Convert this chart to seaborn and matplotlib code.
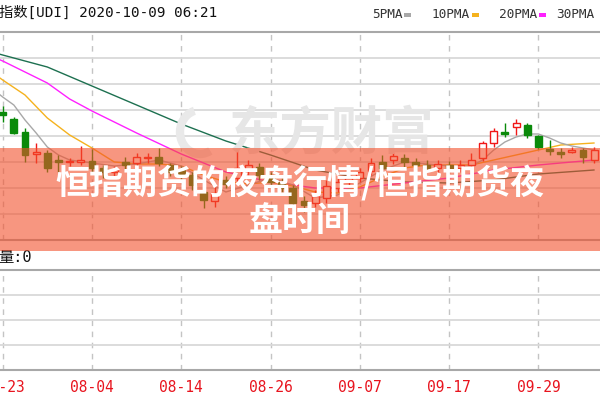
import numpy as np
import pandas as pd
import matplotlib
matplotlib.use('Agg')
import matplotlib.pyplot as plt
from matplotlib.patches import Rectangle, Arc
import seaborn as sns

# daily candles, 07-23 .. 10-08 (index 0 = 07-23)
opens = [94.64, 94.43, 94.04, 93.38, 93.41, 93.20, 93.14, 93.14, 93.17, 92.96,
         92.84, 93.14, 93.11, 93.26, 93.29, 93.05, 92.90, 92.75, 92.24, 91.97,
         92.60, 92.66, 92.90, 92.99, 92.72, 92.54, 92.36, 91.97, 91.91, 92.06,
         92.36, 92.54, 92.66, 92.87, 93.14, 93.20, 93.26, 93.14, 93.05, 92.96,
         93.05, 92.96, 93.05, 93.26, 93.71, 94.04, 94.19, 94.25, 93.92, 93.53,
         93.44, 93.44, 93.50, 93.20]
highs = [94.82, 94.49, 94.16, 93.71, 93.50, 93.35, 93.26, 93.62, 93.53, 93.05,
         93.02, 93.29, 93.41, 93.41, 93.56, 93.11, 93.02, 92.84, 92.39, 92.39,
         92.72, 93.50, 93.20, 93.11, 92.84, 92.66, 92.45, 92.12, 92.30, 92.60,
         92.72, 92.84, 92.96, 93.26, 93.35, 93.44, 93.38, 93.26, 93.20, 93.20,
         93.17, 93.20, 93.41, 93.77, 94.16, 94.31, 94.43, 94.31, 93.95, 93.80,
         93.56, 93.59, 93.56, 93.59]
lows = [94.34, 93.98, 93.14, 93.11, 92.84, 92.84, 93.02, 93.05, 92.84, 92.66,
        92.72, 92.90, 93.02, 93.11, 93.02, 92.72, 92.60, 92.30, 91.76, 91.79,
        92.36, 92.54, 92.75, 92.60, 92.42, 92.24, 91.82, 91.64, 91.79, 91.91,
        92.24, 92.42, 92.54, 92.75, 92.84, 93.08, 92.96, 92.90, 92.84, 92.78,
        92.81, 92.84, 92.96, 93.17, 93.59, 93.89, 93.95, 93.86, 93.53, 93.35,
        93.26, 93.41, 93.11, 93.11]
closes = [94.55, 94.01, 93.35, 93.44, 92.96, 93.14, 93.17, 93.20, 92.96, 92.84,
          92.90, 93.05, 93.29, 93.29, 93.11, 92.84, 92.72, 92.45, 92.00, 92.21,
          92.48, 92.96, 93.05, 92.75, 92.54, 92.36, 91.91, 91.85, 92.12, 92.42,
          92.54, 92.66, 92.84, 93.11, 92.96, 93.32, 93.14, 93.05, 92.96, 93.08,
          92.96, 93.05, 93.20, 93.71, 94.07, 93.98, 94.31, 93.95, 93.59, 93.47,
          93.38, 93.50, 93.29, 93.50]

# moving averages (candle index, value)
ma5_idx = [-1, 0, 1, 2, 3, 4, 5, 6, 8, 10, 12, 14, 16, 18, 20, 22, 24, 26, 28, 30,
           32, 34, 36, 38, 40, 42, 43, 44, 45, 46, 47, 48, 49, 50, 51, 52, 53]
ma5 = [95.36, 95.09, 94.85, 94.40, 94.01, 93.59, 93.35, 93.20, 93.11, 93.02, 93.08,
       93.20, 93.02, 92.60, 92.24, 92.45, 92.66, 92.45, 92.06, 92.15, 92.51, 92.90,
       93.14, 93.08, 93.02, 93.02, 93.20, 93.50, 93.74, 93.89, 93.98, 93.98, 93.86,
       93.71, 93.62, 93.56, 93.50]
ma10_idx = [-1, 0, 2, 4, 6, 8, 10, 12, 14, 16, 18, 20, 22, 24, 26, 28, 30, 32, 34,
            36, 38, 40, 42, 44, 46, 48, 50, 53]
ma10 = [95.84, 95.60, 95.15, 94.46, 93.95, 93.56, 93.14, 93.08, 93.08, 93.02, 92.75,
        92.54, 92.48, 92.54, 92.42, 92.24, 92.21, 92.39, 92.69, 92.96, 93.05, 93.05,
        93.05, 93.20, 93.35, 93.50, 93.65, 93.71]
ma20_idx = [-1, 0, 4, 6, 8, 12, 16, 20, 24, 28, 32, 36, 40, 44, 48, 53]
ma20 = [96.32, 96.17, 95.51, 95.03, 94.67, 94.01, 93.38, 92.84, 92.54, 92.36, 92.36,
        92.51, 92.66, 92.90, 93.05, 93.20]
ma30_idx = [-1, 0, 4, 8, 12, 16, 20, 24, 28, 32, 36, 40, 44, 48, 53]
ma30 = [96.44, 96.35, 95.99, 95.42, 94.85, 94.28, 93.77, 93.35, 92.90, 92.66, 92.54,
        92.51, 92.60, 92.78, 92.90]

date_idx = [0, 8, 16, 24, 32, 40, 48]
date_labels = ['07-23', '08-04', '08-14', '08-26', '09-07', '09-17', '09-29']

title_1 = '恒指期货的夜盘行情/恒指期货夜'
title_2 = '盘时间'

df = pd.DataFrame({'open': opens, 'high': highs, 'low': lows, 'close': closes})
df['idx'] = np.arange(len(df))

sns.set_style('white')
plt.rcParams['font.family'] = ['DejaVu Sans Mono', 'Noto Sans CJK SC']

W, H = 600, 400
fig = plt.figure(figsize=(6, 4), dpi=100)


def fx(px):
    return px / W


def fy(py):
    return 1 - py / H


xlim = (-0.24, 53.52)
grid_c = '#d9d9d9'
border_c = '#a8a8a8'

# price panel
ax = fig.add_axes([0, fy(240), 1, (240 - 31.7) / H])
ax.set_xlim(*xlim)
ylo, yhi = 90.8, 97.049
ax.set_ylim(ylo, yhi)
ax.set_yticks(np.linspace(ylo, yhi, 9)[1:-1])
ax.set_xticks(date_idx)
ax.yaxis.grid(True, color=grid_c, lw=1.3)
ax.xaxis.grid(True, color='#c4c4c4', lw=1, linestyle=(0, (4, 4)))
ax.tick_params(labelbottom=False, labelleft=False, length=0)
for s in ['left', 'right']:
    ax.spines[s].set_visible(False)
for s in ['top', 'bottom']:
    ax.spines[s].set_color(border_c)
    ax.spines[s].set_linewidth(1.5)

# watermark logo + name
fig.text(fx(331), fy(134), '东方财富', fontsize=37, fontweight='bold', color='#e6e6e6',
         ha='center', va='center', family=['Noto Sans CJK SC'], zorder=0.5)
fig.add_artist(Arc((fx(200), fy(132)), 40 / W, 44 / H, theta1=100, theta2=290,
                   transform=fig.transFigure, color='#e9e9e9', lw=6, zorder=0.5))

sns.lineplot(x=ma30_idx, y=ma30, ax=ax, color='#1d7050', lw=1, zorder=2)
sns.lineplot(x=ma20_idx, y=ma20, ax=ax, color='#ff20ff', lw=1, zorder=2)
sns.lineplot(x=ma10_idx, y=ma10, ax=ax, color='#f5b21e', lw=1, zorder=2)
sns.lineplot(x=ma5_idx, y=ma5, ax=ax, color='#a8a8a8', lw=1, zorder=2)

up = df['close'] >= df['open']
red, green = '#f01818', '#0a8a0a'
cols = np.where(up, red, green)
ax.vlines(df['idx'], df['low'], df['high'], colors=cols, lw=1, zorder=3)
body = (df['close'] - df['open']).abs()
ax.bar(df['idx'], body.clip(lower=0.005), bottom=df[['open', 'close']].min(axis=1),
       width=0.62, color=np.where(up, 'white', green), edgecolor=cols, lw=1, zorder=4)

# volume panel
vax = fig.add_axes([0, fy(370), 1, 100 / H])
vax.set_xlim(*xlim)
vax.set_ylim(0, 4)
vax.set_yticks([1, 2, 3])
vax.set_xticks(date_idx)
vax.set_xticklabels(date_labels)
vax.yaxis.grid(True, color=grid_c, lw=1.3)
vax.xaxis.grid(True, color='#c4c4c4', lw=1, linestyle=(0, (4, 4)))
vax.tick_params(labelleft=False, length=0, pad=7, labelsize=10.5, labelcolor='#e8141e')
for s in ['left', 'right']:
    vax.spines[s].set_visible(False)
for s in ['top', 'bottom']:
    vax.spines[s].set_color(border_c)
    vax.spines[s].set_linewidth(1.5)

# header
fig.text(fx(-1), fy(13), '指数[UDI] 2020-10-09 06:21', fontsize=10.3, color='#111111',
         ha='left', va='center')
legend_items = [('5PMA', 372, '#a8a8a8'), ('10PMA', 432, '#f5b21e'),
                ('20PMA', 499, '#ff20ff'), ('30PMA', 556, '#1d7050')]
for lab, px, c in legend_items:
    fig.text(fx(px), fy(14.5), lab, fontsize=9.2, color='#333333', ha='left', va='center')
    if lab != '30PMA':
        end = px + 7.6 * len(lab) + 2
        fig.add_artist(Rectangle((fx(end), fy(17)), 7 / W, 4 / H, transform=fig.transFigure,
                                 color=c, lw=0))
fig.text(fx(-2), fy(257.5), '量:0', fontsize=11, color='#111111', ha='left', va='center')

# banner over the chart
fig.add_artist(Rectangle((0, fy(251)), 1, (251 - 148) / H, transform=fig.transFigure,
                         facecolor='#f3502b', alpha=0.6, lw=0, zorder=10))
fig.text(0.5, fy(183), title_1, fontsize=24.5, color='white', fontweight='bold',
         ha='center', va='center', family=['Noto Sans CJK SC'], zorder=11)
fig.text(0.5, fy(220), title_2, fontsize=24.5, color='white', fontweight='bold',
         ha='center', va='center', family=['Noto Sans CJK SC'], zorder=11)

fig.savefig('out.png', dpi=100)
